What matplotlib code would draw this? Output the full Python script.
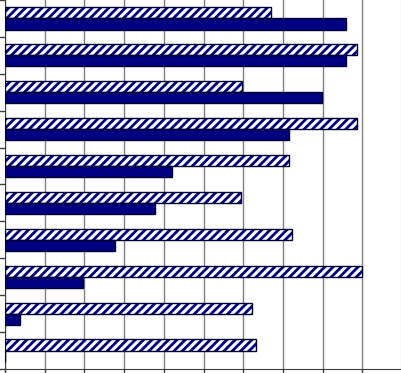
import matplotlib
matplotlib.use("Agg")
import matplotlib.pyplot as plt
import numpy as np

categories = ["A", "B", "C", "D", "E", "F", "G", "H", "I", "J"]
hatched_values = [6.70, 8.87, 5.97, 8.87, 7.15, 5.93, 7.23, 9.00, 6.22, 6.31]
solid_values = [8.59, 8.59, 7.99, 7.16, 4.20, 3.78, 2.77, 1.97, 0.38, 0.0]

plt.rcParams["hatch.linewidth"] = 2.0

fig = plt.figure(figsize=(4.01, 3.73), dpi=100)
ax = fig.add_axes([5 / 401, 4 / 373, 1 - 5 / 401, 1 - 4 / 373])

y = np.arange(len(categories))
h = 0.3
ax.barh(y - h / 2, hatched_values, height=h, facecolor="white",
        edgecolor="#000080", hatch="////", linewidth=0, zorder=3)
ax.barh(y - h / 2, hatched_values, height=h, facecolor="none",
        edgecolor="#000030", linewidth=1.0, zorder=4)
ax.barh(y + h / 2, solid_values, height=h, facecolor="#000080",
        edgecolor="#000030", linewidth=1.0, zorder=3)

ax.set_xlim(0, 9.97)
ax.set_ylim(len(categories) - 0.5, -0.5)
ax.set_xticks(np.arange(0, 10, 1))
ax.set_yticks(np.arange(-0.5, len(categories), 1))
ax.tick_params(axis="both", labelleft=False, labelbottom=False,
               direction="out", length=4, width=1, color="#404040")
ax.grid(axis="x", color="#808080", linewidth=1, zorder=0)
ax.set_axisbelow(True)
for s in ["top"]:
    ax.spines[s].set_visible(False)
ax.spines["right"].set_color("#a0a0a0")
ax.spines["left"].set_color("#404040")
ax.spines["bottom"].set_color("#404040")

fig.savefig("out.png", dpi=100)
